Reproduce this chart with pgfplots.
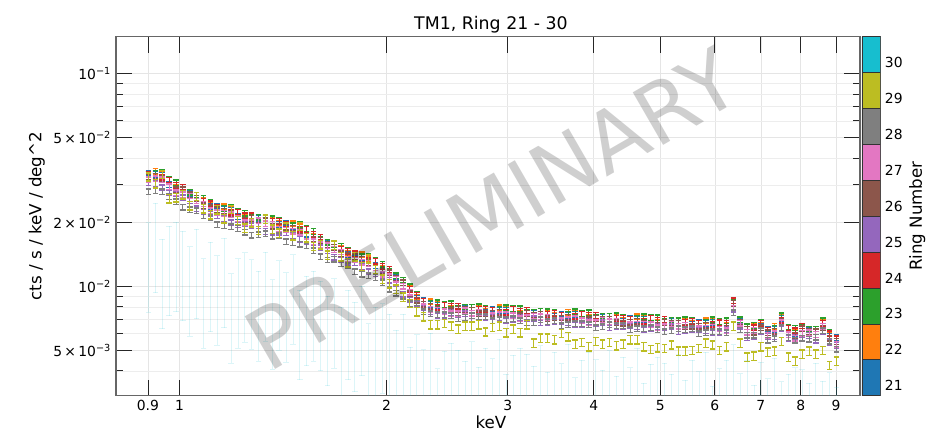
\documentclass[border=0pt]{standalone}
\usepackage{fontspec}
\setmainfont{DejaVu Sans}
\usepackage{pgfplots}
\usepackage{pgfplotstable}
\pgfplotsset{compat=1.18}
\definecolor{c21}{RGB}{31,119,180}
\definecolor{c22}{RGB}{255,127,14}
\definecolor{c23}{RGB}{44,160,44}
\definecolor{c24}{RGB}{214,39,40}
\definecolor{c25}{RGB}{148,103,189}
\definecolor{c26}{RGB}{140,86,75}
\definecolor{c27}{RGB}{227,119,194}
\definecolor{c28}{RGB}{127,127,127}
\definecolor{c29}{RGB}{188,189,34}
\definecolor{c30}{RGB}{23,190,207}
\pgfplotsset{
  ebar/.style 2 args={color=#1, only marks, mark=text, text mark={},
    error bars/y dir=both, error bars/y fixed relative=#2,
    error bars/error mark=|,
    error bars/error bar style={line width=0.7pt},
    error bars/error mark options={mark size=2pt, line width=1pt}},
  faint/.style 2 args={color=#1, only marks, mark=text, text mark={},
    error bars/y dir=both, error bars/y fixed relative=#2,
    error bars/error mark=|,
    error bars/error bar style={line width=0.6pt, opacity=0.15},
    error bars/error mark options={mark size=2pt, line width=0.6pt, opacity=0.15}}
}
% values in units of 1e-3 cts/s/keV/deg^2
\pgfplotstableread{
x r21 r22 r23 r24 r25 r26 r27 r28 r29 r30
0.9016 34.0 33.7 33.7 33.7 30.7 32.7 31.7 27.8 32.7 13.7
0.9226 33.7 34.7 34.0 33.0 30.4 33.0 32.0 28.1 30.4 17.0
0.9441 33.3 33.6 34.2 32.6 29.1 32.0 31.7 27.8 33.6 11.5
0.9660 30.0 31.8 31.8 31.5 27.6 29.4 29.4 26.4 25.8 13.2
0.9886 29.0 29.3 30.7 29.8 27.3 28.4 27.6 25.0 26.1 13.8
1.0116 28.4 28.6 28.6 29.2 26.1 28.4 27.0 23.6 27.0 12.5
1.0351 27.4 27.7 27.7 26.9 25.3 26.9 26.6 22.9 23.9 10.6
1.0593 26.0 26.8 26.8 26.0 23.2 26.0 25.2 22.7 26.5 12.8
1.0839 24.4 25.4 25.9 25.1 22.4 23.9 24.4 21.5 23.2 9.3
1.1092 23.8 24.1 24.8 24.5 21.9 23.4 22.7 21.0 21.7 11.1
1.1350 23.8 23.6 23.6 23.6 21.5 22.9 22.2 19.5 22.9 9.6
1.1614 23.1 23.7 23.3 22.6 20.8 22.6 22.0 19.3 20.8 11.6
1.1885 22.8 23.0 23.4 22.3 19.9 21.9 21.7 19.1 23.0 7.9
1.2162 21.2 22.5 22.5 22.3 19.5 20.8 20.8 18.7 20.4 9.3
1.2445 20.9 21.1 22.1 21.5 19.7 20.5 19.9 18.0 18.8 9.9
1.2735 20.9 21.1 21.1 21.5 19.3 20.9 19.9 17.4 19.9 9.2
1.3032 20.9 21.1 21.1 20.5 19.3 20.5 20.3 17.5 18.3 8.1
1.3335 20.3 20.9 20.9 20.3 18.1 20.3 19.7 17.7 20.7 10.0
1.3646 19.6 20.4 20.8 20.2 18.0 19.2 19.6 17.2 18.6 7.4
1.3964 19.6 19.8 20.4 20.2 18.0 19.2 18.6 17.3 17.8 9.1
1.4289 19.8 19.6 19.6 19.6 17.9 19.0 18.4 16.2 19.0 8.0
1.4622 19.2 19.7 19.3 18.8 17.3 18.8 18.2 16.0 17.3 9.7
1.4962 18.9 19.1 19.5 18.6 16.6 18.2 18.0 15.8 19.1 6.6
1.5311 17.6 18.7 18.7 18.5 16.2 17.2 17.2 15.5 16.9 7.7
1.5668 17.1 17.2 18.1 17.6 16.1 16.7 16.2 14.7 15.4 8.1
1.6032 16.5 16.7 16.7 17.0 15.2 16.5 15.7 13.8 15.7 7.3
1.6406 16.0 16.1 16.1 15.7 14.7 15.7 15.5 13.3 14.0 6.2
1.6788 15.3 15.8 15.8 15.3 13.7 15.3 14.9 13.4 15.6 7.5
1.7179 14.5 15.1 15.4 14.9 13.3 14.2 14.5 12.8 13.8 5.5
1.7579 14.1 14.3 14.7 14.6 13.0 13.9 13.4 12.5 12.9 6.6
1.7989 14.3 14.2 14.2 14.2 12.9 13.8 13.3 11.7 13.8 5.8
1.8408 13.7 14.1 13.8 13.4 12.4 13.4 13.0 11.4 12.4 6.9
1.8836 13.4 13.5 13.8 13.2 11.7 12.9 12.8 11.2 13.5 4.6
1.9275 12.5 13.2 13.2 13.1 11.5 12.2 12.2 11.0 12.0 5.5
1.9724 12.0 12.1 12.7 12.4 11.3 11.8 11.4 10.4 10.8 5.7
2.0184 11.6 11.7 11.7 12.0 10.7 11.6 11.1 9.7 10.3 5.1
2.0654 11.1 11.2 11.2 10.9 10.3 10.9 10.8 9.3 9.7 4.3
2.1135 10.4 10.7 10.7 10.4 9.2 10.4 10.0 9.0 8.9 5.1
2.1627 9.40 9.78 9.96 9.68 8.65 9.21 9.40 8.27 8.30 3.57
2.2131 8.79 8.87 9.14 9.05 8.27 8.61 8.35 8.35 7.60 4.09
2.2646 8.58 8.50 8.50 8.50 7.92 8.25 8.00 7.59 7.20 3.47
2.3174 8.22 8.46 8.30 8.06 7.58 8.06 7.82 7.42 6.60 4.15
2.3714 8.13 8.21 8.37 7.98 7.27 7.82 7.74 7.35 6.60 2.82
2.4266 7.74 8.20 8.20 8.13 7.28 7.59 7.59 7.35 6.70 3.41
2.4831 7.82 7.89 8.28 8.05 7.51 7.66 7.43 7.28 6.50 3.72
2.5410 7.82 7.90 7.90 8.05 7.36 7.82 7.44 7.06 6.30 3.45
2.6002 7.90 7.98 7.98 7.75 7.44 7.75 7.67 7.13 6.50 3.07
2.6607 7.72 7.95 7.95 7.72 7.04 7.72 7.49 7.27 6.50 3.79
2.7227 7.57 7.87 8.02 7.80 7.12 7.42 7.57 7.19 6.60 2.88
2.7861 7.56 7.64 7.86 7.79 7.12 7.42 7.19 7.19 6.10 3.52
2.8510 7.79 7.71 7.71 7.71 7.19 7.49 7.27 6.89 6.40 3.15
2.9174 7.71 7.94 7.79 7.56 7.12 7.56 7.34 6.97 6.50 3.89
2.9854 7.71 7.78 7.93 7.56 6.89 7.41 7.34 6.97 6.05 2.67
3.0549 7.41 7.85 7.85 7.78 6.97 7.26 7.26 7.04 6.30 3.26
3.1261 7.40 7.48 7.84 7.62 7.11 7.26 7.04 6.89 6.05 3.52
3.1989 7.48 7.55 7.55 7.70 7.04 7.48 7.11 6.74 6.60 3.30
3.2734 7.47 7.54 7.54 7.32 7.03 7.32 7.25 6.74 5.40 2.90
3.3497 7.40 7.61 7.61 7.40 6.74 7.40 7.18 6.96 5.70 3.63
3.4277 7.17 7.46 7.60 7.39 6.74 7.03 7.17 6.81 5.70 2.72
3.5075 7.24 7.31 7.53 7.46 6.81 7.10 6.88 6.88 5.60 3.37
3.5892 7.38 7.31 7.31 7.31 6.82 7.10 6.89 6.53 6.00 2.98
3.6728 7.31 7.53 7.38 7.17 6.75 7.17 6.96 6.60 5.80 3.69
3.7584 7.38 7.46 7.60 7.24 6.60 7.10 7.03 6.67 5.35 2.56
3.8459 7.02 7.44 7.44 7.37 6.60 6.88 6.88 6.67 5.45 3.09
3.9355 7.09 7.16 7.51 7.30 6.81 6.95 6.74 6.60 5.20 3.37
4.0272 7.08 7.15 7.15 7.29 6.66 7.08 6.73 6.38 5.50 3.12
4.1210 7.15 7.22 7.22 7.01 6.73 7.01 6.94 6.45 5.35 2.78
4.2170 7.01 7.21 7.21 7.01 6.39 7.01 6.80 6.60 5.45 3.44
4.3152 6.87 7.14 7.28 7.08 6.46 6.73 6.87 6.53 5.25 2.61
4.4157 6.86 6.93 7.13 7.06 6.45 6.72 6.52 6.52 5.35 3.19
4.5186 7.06 6.99 6.99 6.99 6.52 6.79 6.59 6.25 5.60 2.85
4.6238 6.99 7.20 7.06 6.86 6.45 6.86 6.65 6.31 5.60 3.53
4.7315 6.99 7.06 7.19 6.85 6.25 6.72 6.65 6.32 5.20 2.42
4.8417 6.72 7.12 7.12 7.06 6.32 6.59 6.59 6.38 5.05 2.96
4.9545 6.72 6.78 7.12 6.92 6.45 6.58 6.38 6.25 5.15 3.19
5.0699 6.78 6.85 6.85 6.98 6.38 6.78 6.45 6.12 5.10 2.99
5.1880 6.85 6.92 6.92 6.72 6.45 6.72 6.65 6.18 5.30 2.66
5.3088 6.70 6.90 6.90 6.70 6.11 6.70 6.50 6.31 4.95 3.29
5.4325 6.57 6.83 6.96 6.77 6.18 6.44 6.57 6.24 4.95 2.50
5.5590 6.64 6.70 6.90 6.83 6.24 6.50 6.31 6.31 5.00 3.09
5.6885 6.76 6.70 6.70 6.70 6.24 6.50 6.31 5.98 5.10 2.73
5.8210 6.70 6.89 6.76 6.57 6.18 6.57 6.37 6.05 5.40 3.38
5.9566 6.76 6.83 6.96 6.63 6.05 6.50 6.44 6.11 5.30 2.34
6.0954 6.43 6.82 6.82 6.75 6.04 6.30 6.30 6.11 5.00 2.83
6.2373 6.49 6.56 6.88 6.69 6.24 6.37 6.17 6.04 5.20 3.09
6.3826 8.31 8.39 8.39 8.56 7.82 8.31 7.91 7.50 6.50 3.67
6.5313 6.90 6.97 6.97 6.77 6.50 6.77 6.70 6.23 5.40 2.68
6.6834 6.27 6.46 6.46 6.27 5.72 6.27 6.09 5.90 4.65 3.08
6.8391 6.20 6.45 6.57 6.39 5.83 6.08 6.20 5.89 4.70 2.36
6.9984 6.51 6.58 6.77 6.71 6.13 6.39 6.19 6.19 5.20 3.03
7.1614 6.29 6.23 6.23 6.23 5.81 6.05 5.87 5.57 4.90 2.54
7.3282 6.28 6.47 6.34 6.16 5.80 6.16 5.98 5.67 4.95 3.17
7.4989 7.07 7.14 7.28 6.94 6.32 6.80 6.73 6.39 5.50 2.45
7.6736 6.05 6.41 6.41 6.35 5.69 5.93 5.93 5.75 4.65 2.66
7.8524 6.01 6.07 6.37 6.19 5.77 5.89 5.71 5.59 4.45 2.86
8.0353 6.32 6.39 6.39 6.51 5.95 6.32 6.01 5.70 4.80 2.79
8.2225 6.23 6.29 6.29 6.11 5.87 6.11 6.05 5.63 4.95 2.42
8.4140 6.12 6.30 6.30 6.12 5.58 6.12 5.94 5.76 4.80 3.00
8.6099 6.50 6.76 6.89 6.70 6.11 6.37 6.50 6.18 5.00 2.47
8.8105 5.81 5.87 6.04 5.98 5.46 5.69 5.52 5.52 4.25 2.70
9.0157 5.72 5.67 5.67 5.67 5.28 5.50 5.34 5.06 4.45 2.31
}\spec
\begin{document}
\begin{tikzpicture}
\useasboundingbox (-83.5pt,-26.9pt) rectangle (589.7pt,284.9pt);
\begin{axis}[
  at={(0pt,0pt)}, anchor=south west,
  scale only axis, width=535.7pt, height=258.5pt,
  xmode=log, ymode=log,
  xmin=0.8087, xmax=9.752, ymin=3.058, ymax=149.3,
  xtick={0.9,1,2,3,4,5,6,7,8,9},
  xticklabels={0.9,1,2,3,4,5,6,7,8,9},
  ytick={5,10,20,50,100},
  yticklabels={5\,×\,10\textsuperscript{−3},10\textsuperscript{−2},2\,×\,10\textsuperscript{−2},5\,×\,10\textsuperscript{−2},10\textsuperscript{−1}},
  minor ytick={4,6,7,8,9,30,40,60,70,80,90},
  tick align=inside, tick pos=both,
  major tick length=11.5pt, minor tick length=5.3pt,
  grid=both,
  major grid style={black!10, line width=0.5pt},
  minor grid style={black!7, line width=0.4pt},
  axis line style={black!60, line width=0.8pt},
  tick style={black!85, line width=0.6pt},
  tick label style={font=\fontsize{10}{12}\selectfont},
]
\addplot[ebar={c21}{0.03}] table[x=x,y=r21]{\spec};
\addplot[ebar={c22}{0.03}] table[x=x,y=r22]{\spec};
\addplot[ebar={c23}{0.03}] table[x=x,y=r23]{\spec};
\addplot[ebar={c24}{0.03}] table[x=x,y=r24]{\spec};
\addplot[ebar={c25}{0.03}] table[x=x,y=r25]{\spec};
\addplot[ebar={c26}{0.03}] table[x=x,y=r26]{\spec};
\addplot[ebar={c27}{0.03}] table[x=x,y=r27]{\spec};
\addplot[ebar={c28}{0.03}] table[x=x,y=r28]{\spec};
\addplot[ebar={c29}{0.045}] table[x=x,y=r29]{\spec};
\addplot[faint={c30}{0.45}] table[x=x,y=r30]{\spec};
\end{axis}
\begin{axis}[
  at={(537.1pt,0pt)}, anchor=south west,
  scale only axis, width=13pt, height=258.5pt,
  xmin=0, xmax=1, ymin=20.72, ymax=30.72,
  xtick=\empty,
  ytick={21,22,23,24,25,26,27,28,29,30},
  yticklabels={21,22,23,24,25,26,27,28,29,30},
  yticklabel pos=right,
  ytick style={draw=none},
  axis line style={black!70, line width=0.6pt},
  tick label style={font=\fontsize{10}{12}\selectfont},
]
\addplot[fill=c21, draw=black!80, line width=0.5pt] coordinates {(0,20.72) (1,20.72) (1,21.72) (0,21.72) (0,20.72)};
\addplot[fill=c22, draw=black!80, line width=0.5pt] coordinates {(0,21.72) (1,21.72) (1,22.72) (0,22.72) (0,21.72)};
\addplot[fill=c23, draw=black!80, line width=0.5pt] coordinates {(0,22.72) (1,22.72) (1,23.72) (0,23.72) (0,22.72)};
\addplot[fill=c24, draw=black!80, line width=0.5pt] coordinates {(0,23.72) (1,23.72) (1,24.72) (0,24.72) (0,23.72)};
\addplot[fill=c25, draw=black!80, line width=0.5pt] coordinates {(0,24.72) (1,24.72) (1,25.72) (0,25.72) (0,24.72)};
\addplot[fill=c26, draw=black!80, line width=0.5pt] coordinates {(0,25.72) (1,25.72) (1,26.72) (0,26.72) (0,25.72)};
\addplot[fill=c27, draw=black!80, line width=0.5pt] coordinates {(0,26.72) (1,26.72) (1,27.72) (0,27.72) (0,26.72)};
\addplot[fill=c28, draw=black!80, line width=0.5pt] coordinates {(0,27.72) (1,27.72) (1,28.72) (0,28.72) (0,27.72)};
\addplot[fill=c29, draw=black!80, line width=0.5pt] coordinates {(0,28.72) (1,28.72) (1,29.72) (0,29.72) (0,28.72)};
\addplot[fill=c30, draw=black!80, line width=0.5pt] coordinates {(0,29.72) (1,29.72) (1,30.72) (0,30.72) (0,29.72)};
\end{axis}
\node[font=\fontsize{12.5}{15}\selectfont, anchor=base] at (270pt,264pt) {TM1, Ring 21 - 30};
\node[font=\fontsize{12}{14}\selectfont, anchor=base] at (270pt,-23.6pt) {keV};
\node[font=\fontsize{12}{14}\selectfont, rotate=90] at (-57pt,129.3pt) {cts / s / keV / deg\textasciicircum 2};
\node[font=\fontsize{12}{14}\selectfont, rotate=90] at (577pt,129.3pt) {Ring Number};
\node[font=\fontsize{60}{60}\selectfont, rotate=30, text=black, text opacity=0.19] at (270.7pt,134.4pt) {PRELIMINARY};
\end{tikzpicture}
\end{document}
